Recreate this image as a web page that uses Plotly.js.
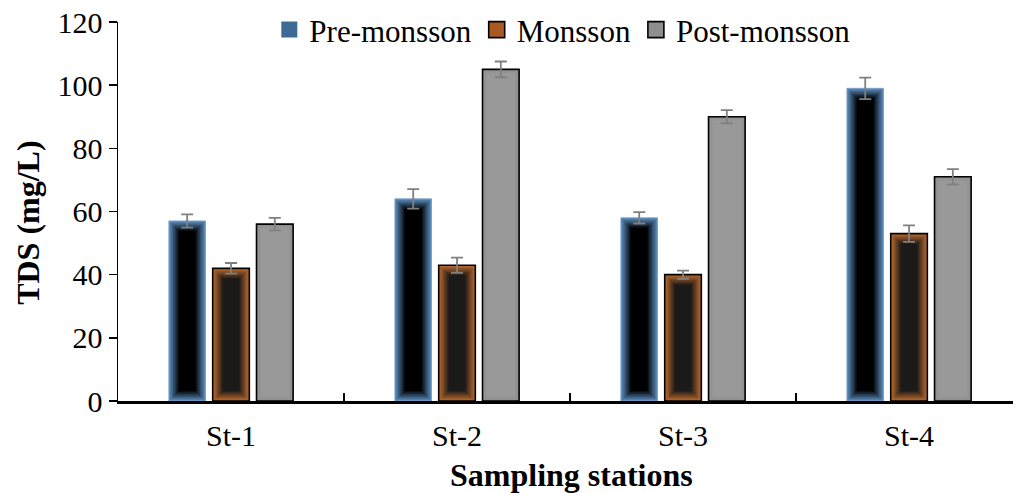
<!DOCTYPE html>
<html>
<head>
<meta charset="utf-8">
<script src="https://cdn.plot.ly/plotly-3.0.1.min.js"></script>
<style>html,body{margin:0;padding:0;background:#fff;}#chart{width:1013px;height:493px;}</style>
</head>
<body>
<div id="chart"></div>
<script>
var stations = ["St-1", "St-2", "St-3", "St-4"];
var seriesNames = ["Pre-monsson", "Monsson", "Post-monsson"];
var preMonsoon = [57, 64, 58, 99];
var monsoon = [42, 43, 40, 53];
var postMonsoon = [56, 105, 90, 71];
var preErr = [2.1, 3.1, 1.8, 3.4];
var monErr = [1.7, 2.4, 1.3, 2.6];
var postErr = [2.0, 2.5, 2.1, 2.4];
var yTicks = [0, 20, 40, 60, 80, 100, 120];
var xTitle = "Sampling stations";
var yTitle = "TDS (mg/L)";

var FONT = "Liberation Serif";
var PX_PER_CAT = 226;
var PX_PER_UNIT = 379 / 120;
var BAR_W = 36.6 / PX_PER_CAT;
var STEP = 43.8 / PX_PER_CAT;

function hex2rgb(h){h=h.replace('#','');return [parseInt(h.substr(0,2),16),parseInt(h.substr(2,2),16),parseInt(h.substr(4,2),16)];}
function lerp(a,b,t){var A=hex2rgb(a),B=hex2rgb(b);return 'rgb('+A.map(function(v,i){return Math.round(v+(B[i]-v)*t);}).join(',')+')';}

var traces = [];
var specs = [
  {name: seriesNames[0], y: preMonsoon, err: preErr, edge: '#5888b8', center: '#000000', legend: '#3e6a96', line: 'rgba(120,160,200,0.9)', lw: 1, layers: 8, idx: 0},
  {name: seriesNames[1], y: monsoon, err: monErr, edge: '#b8682c', center: '#1c1a19', legend: '#a85a22', line: '#000000', lw: 1.6, layers: 8, idx: 1},
  {name: seriesNames[2], y: postMonsoon, err: postErr, edge: '#8e8e8e', center: '#999999', legend: '#8e8e8e', line: '#000000', lw: 1.6, layers: 4, idx: 2}
];

specs.forEach(function(s){
  var centerOff = (s.idx - 1) * STEP;
  traces.push({
    type: 'bar', x: stations, y: s.y, name: s.name,
    width: BAR_W, offset: centerOff - BAR_W/2,
    marker: {color: s.edge, line: {color: s.line, width: s.lw}},
    showlegend: false, hoverinfo: 'skip'
  });
  var inset = 1.4;
  for (var k = 1; k < s.layers; k++) {
    var px = inset * k;
    var w = BAR_W - 2 * px / PX_PER_CAT;
    var dy = px / PX_PER_UNIT;
    traces.push({
      type: 'bar', x: stations,
      y: s.y.map(function(v){return v - 2*dy;}),
      base: s.y.map(function(){return dy;}),
      width: w, offset: centerOff - w/2,
      marker: {color: lerp(s.edge, s.center, k/(s.layers-1)), line: {width: 0}},
      showlegend: false, hoverinfo: 'skip'
    });
  }
});
specs.forEach(function(s){
  var centerOff = (s.idx - 1) * STEP;
  traces.push({
    type: 'bar', x: stations, y: s.y, name: s.name,
    width: BAR_W, offset: centerOff - BAR_W/2,
    marker: {color: 'rgba(0,0,0,0)', line: {width: 0}},
    error_y: {type: 'data', array: s.err, visible: true, color: '#808080', thickness: 1.8, width: 6},
    showlegend: false
  });
});
specs.forEach(function(s){
  traces.push({
    type: 'scatter', mode: 'markers', x: [null], y: [null], name: s.name,
    marker: {symbol: 'square', size: 16, color: s.legend,
             line: {color: s.idx === 0 ? s.legend : '#000000', width: s.idx === 0 ? 0 : 1.6}},
    showlegend: true
  });
});

var layout = {
  width: 1013, height: 493,
  margin: {l: 118, r: 0, t: 22, b: 92},
  paper_bgcolor: '#ffffff', plot_bgcolor: '#ffffff',
  font: {family: FONT, color: '#000'},
  barmode: 'overlay',
  showlegend: true,
  legend: {orientation: 'h', x: 0.497, xanchor: 'center', y: 0.979, yanchor: 'middle',
           font: {family: FONT, size: 31, color: '#000'}, itemwidth: 30,
           bgcolor: 'rgba(0,0,0,0)'},
  xaxis: {
    type: 'category', range: [-0.5, 3.46],
    showline: true, linecolor: '#000', linewidth: 3,
    ticks: 'inside', tickson: 'boundaries', ticklen: 8, tickwidth: 2, tickcolor: '#000',
    showgrid: false, zeroline: false,
    tickfont: {family: FONT, size: 30, color: '#000'},
    ticklabelstandoff: 6
  },
  yaxis: {
    range: [0, 120], tickvals: yTicks, ticktext: yTicks.map(String),
    showline: true, linecolor: '#000', linewidth: 1.5,
    ticks: 'outside', ticklen: 8, tickwidth: 1.5, tickcolor: '#000',
    showgrid: false, zeroline: false,
    tickfont: {family: FONT, size: 30, color: '#000'}
  },
  annotations: [
    {text: '<b>' + xTitle + '</b>', xref: 'paper', yref: 'paper', x: 0.507, y: -0.195,
     xanchor: 'center', yanchor: 'middle', showarrow: false,
     font: {family: FONT, size: 32, color: '#000'}},
    {text: '<b>' + yTitle + '</b>', xref: 'paper', yref: 'paper', x: -0.1006, y: 0.47,
     xanchor: 'center', yanchor: 'middle', showarrow: false, textangle: -90,
     font: {family: FONT, size: 32, color: '#000'}}
  ]
};

Plotly.newPlot('chart', traces, layout, {displayModeBar: false, staticPlot: true});
</script>
</body>
</html>
